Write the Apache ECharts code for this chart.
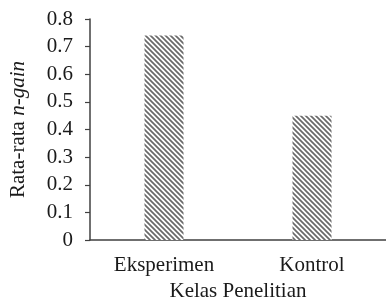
<!DOCTYPE html>
<html>
<head>
<meta charset="utf-8">
<script src="https://cdn.jsdelivr.net/npm/echarts@6/dist/echarts.min.js"></script>
<style>html,body{margin:0;padding:0;background:#fff;}#c{width:386px;height:307px;}</style>
</head>
<body>
<div id="c"></div>
<script>
const categories = ['Eksperimen', 'Kontrol'];
const values = [0.74, 0.45];
const yTicks = [0, 0.1, 0.2, 0.3, 0.4, 0.5, 0.6, 0.7, 0.8];

function hatch() {
  const c = document.createElement('canvas');
  c.width = 5; c.height = 5;
  const g = c.getContext('2d');
  g.fillStyle = '#fff'; g.fillRect(0, 0, 5, 5);
  g.strokeStyle = '#6a6a6a'; g.lineWidth = 1.7;
  g.beginPath();
  g.moveTo(-1, -1); g.lineTo(6, 6);
  g.moveTo(-1, 4); g.lineTo(1, 6);
  g.moveTo(4, -1); g.lineTo(6, 1);
  g.stroke();
  return c;
}

const font = '"Liberation Serif", "Times New Roman", serif';
const fs = 21;
const chart = echarts.init(document.getElementById('c'), null, {renderer: 'canvas'});
chart.setOption({
  animation: false,
  grid: {left: 83, right: -4, top: 19, bottom: 58},
  xAxis: {
    type: 'category',
    data: categories,
    axisLine: {lineStyle: {color: '#404040', width: 1.5}},
    axisTick: {show: false},
    axisLabel: {color: '#1a1a1a', fontFamily: font, fontSize: fs, margin: 15},
    name: 'Kelas Penelitian',
    nameLocation: 'middle',
    nameGap: 38,
    nameTextStyle: {color: '#1a1a1a', fontFamily: font, fontSize: fs}
  },
  yAxis: {
    type: 'value',
    min: yTicks[0], max: yTicks[yTicks.length - 1], interval: 0.1,
    splitLine: {show: false},
    axisLine: {show: true, lineStyle: {color: '#404040', width: 1.5}},
    axisTick: {show: true, length: 5, lineStyle: {color: '#404040', width: 1.2}},
    axisLabel: {
      color: '#1a1a1a', fontFamily: font, fontSize: fs, margin: 17,
      formatter: v => v === 0 ? '0' : v.toFixed(1)
    },
    name: '{n|Rata-rata }{i|n-gain}',
    nameLocation: 'middle',
    nameGap: 61,
    nameTextStyle: {
      rich: {
        n: {color: '#1a1a1a', fontFamily: font, fontSize: fs},
        i: {color: '#1a1a1a', fontFamily: font, fontSize: fs, fontStyle: 'italic'}
      }
    }
  },
  series: [{
    type: 'bar',
    data: values,
    barWidth: 39,
    itemStyle: {color: {image: hatch(), repeat: 'repeat'}}
  }]
});
</script>
</body>
</html>
